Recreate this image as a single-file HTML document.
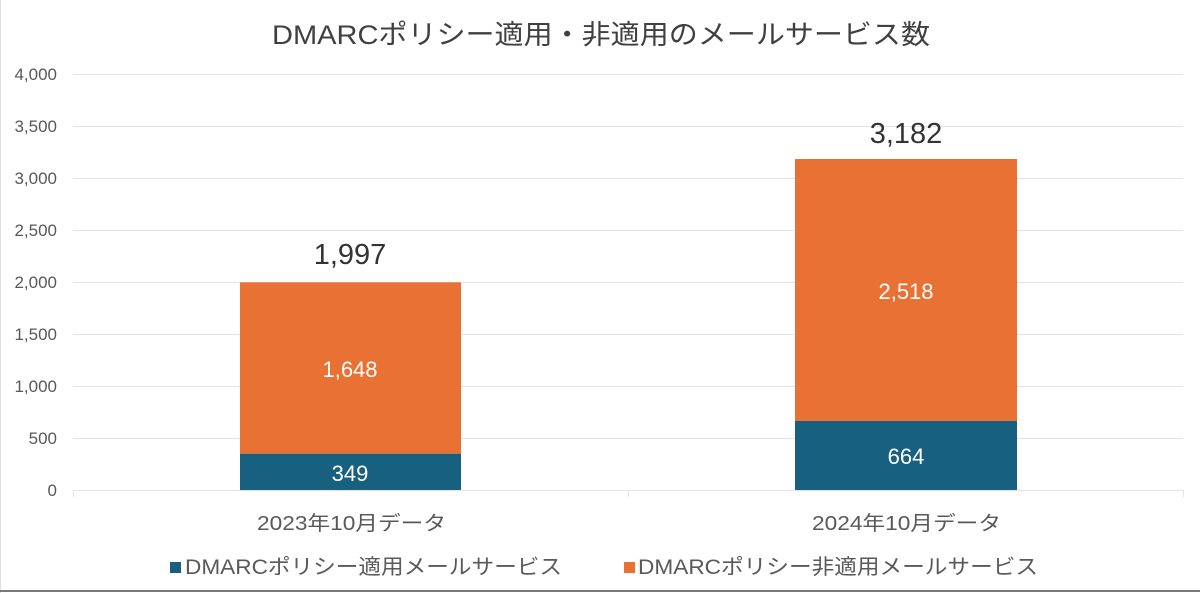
<!DOCTYPE html>
<html><head><meta charset="utf-8"><style>
html,body{margin:0;padding:0;background:#fff;}
svg{display:block;font-family:"Liberation Sans","Noto Sans CJK JP",sans-serif;}
</style></head><body>
<svg width="1200" height="593" viewBox="0 0 1200 593">
<rect width="1200" height="593" fill="#fff"/>
<line x1="0.5" y1="0" x2="0.5" y2="593" stroke="#ddd"/>
<line x1="0" y1="591" x2="1200" y2="591" stroke="#777" stroke-width="2"/>
<text x="272" y="44" font-size="27" fill="#404040" textLength="658" lengthAdjust="spacingAndGlyphs">DMARCポリシー適用・非適用のメールサービス数</text>
<g stroke="#e3e3e3" stroke-width="1">
<line x1="73" x2="1183" y1="74.5" y2="74.5"/>
<line x1="73" x2="1183" y1="126.5" y2="126.5"/>
<line x1="73" x2="1183" y1="178.5" y2="178.5"/>
<line x1="73" x2="1183" y1="230.5" y2="230.5"/>
<line x1="73" x2="1183" y1="282.5" y2="282.5"/>
<line x1="73" x2="1183" y1="334.5" y2="334.5"/>
<line x1="73" x2="1183" y1="386.5" y2="386.5"/>
<line x1="73" x2="1183" y1="438.5" y2="438.5"/>
<line x1="73" x2="1183" y1="490.5" y2="490.5"/>
<line x1="73.5" x2="73.5" y1="490" y2="497"/>
<line x1="628.5" x2="628.5" y1="490" y2="497"/>
<line x1="1183.5" x2="1183.5" y1="490" y2="497"/>
</g>
<g font-size="17" fill="#595959" text-anchor="end">
<text x="57" y="80">4,000</text><text x="57" y="132">3,500</text><text x="57" y="184">3,000</text>
<text x="57" y="236">2,500</text><text x="57" y="288">2,000</text><text x="57" y="340">1,500</text>
<text x="57" y="392">1,000</text><text x="57" y="444">500</text><text x="57" y="496">0</text>
</g>
<rect x="240" y="282.3" width="221" height="171.4" fill="#E87133"/>
<rect x="240" y="453.7" width="221" height="36.3" fill="#17607F"/>
<rect x="795" y="159" width="222" height="262" fill="#E87133"/>
<rect x="795" y="421" width="222" height="69" fill="#17607F"/>
<g fill="#fff" font-size="22" text-anchor="middle">
<text x="350" y="377">1,648</text><text x="350" y="481">349</text>
<text x="906" y="299">2,518</text><text x="906" y="464">664</text>
</g>
<g fill="#333" font-size="29" text-anchor="middle">
<text x="350" y="264">1,997</text><text x="906" y="143">3,182</text>
</g>
<g fill="#595959" font-size="20">
<text x="257" y="530" textLength="189" lengthAdjust="spacingAndGlyphs">2023年10月データ</text>
<text x="812" y="530" textLength="189" lengthAdjust="spacingAndGlyphs">2024年10月データ</text>
</g>
<rect x="170" y="562" width="11" height="11" fill="#17607F"/>
<text x="185" y="574" font-size="21" fill="#595959" textLength="377" lengthAdjust="spacingAndGlyphs">DMARCポリシー適用メールサービス</text>
<rect x="624" y="562" width="11" height="11" fill="#E87133"/>
<text x="638" y="574" font-size="21" fill="#595959" textLength="400" lengthAdjust="spacingAndGlyphs">DMARCポリシー非適用メールサービス</text>
</svg>
</body></html>
